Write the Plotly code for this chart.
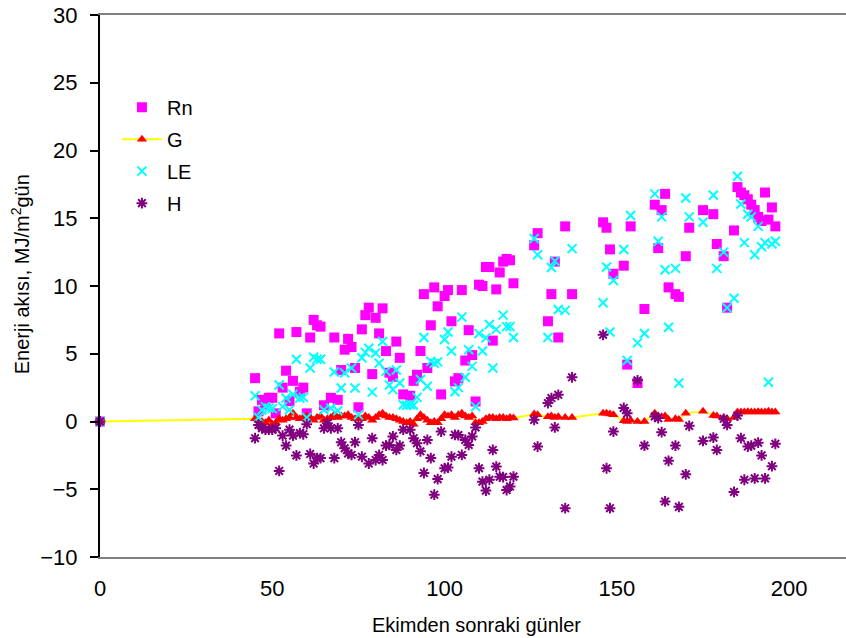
import plotly.graph_objects as go

# ---------------- data ----------------
rn_days = [0,45,46,47,48,49,50,51,52,53,54,55,56,57,58,59,60,61,62,63,64,65,67,68,69,70,71,72,73,74,75,76,77,78,79,80,81,82,83,84,85,86,87,88,90,91,92,93,94,95,96,97,98,99,100,101,102,103,104,105,106,107,108,109,110,111,112,113,114,115,116,117,118,119,120,126,127,130,131,132,133,135,137,146,147,148,149,152,153,154,156,158,161,162,163,164,165,167,168,170,171,175,178,179,181,182,184,185,186,187,188,189,190,191,192,193,194,195,196]
rn_vals = [0,3.2,0.75,1.6,1.25,1.75,1.75,0.6,6.5,2.5,3.75,1.5,3.0,6.6,2.2,2.5,0.6,6.2,7.5,7.1,7.0,1.2,1.75,6.2,1.6,3.8,5.3,6.1,5.5,3.95,1.05,6.8,7.85,8.4,3.5,7.65,6.5,8.35,5.2,3.6,3.3,5.9,4.7,2.0,1.9,3.0,3.45,5.2,9.4,3.95,7.1,9.9,8.5,2.0,9.26,9.7,7.4,2.96,3.2,9.7,4.5,6.74,4.9,1.48,10.1,10.0,11.4,11.4,5.97,9.75,11.0,11.8,12.0,11.9,10.2,13.0,13.9,7.4,9.4,11.8,6.2,14.4,9.4,14.7,14.3,12.7,10.9,11.5,4.2,14.4,2.84,8.3,16.0,12.8,15.6,16.8,9.9,9.4,9.2,12.2,14.3,15.6,15.3,13.1,12.2,8.4,14.1,17.3,16.9,16.7,16.4,16.0,15.6,15.1,14.8,16.9,14.9,15.8,14.4]

g_days = [0] + list(range(45, 121)) + [126,127,130,131,132,133,135,137,146,147,148,149,152,153,154,156,158,161,162,163,164,165,167,168,170,175,178,179,181,182,184,185,186,187,188,189,190,191,192,193,194,195,196]
g_vals = [0,
          0.2,0.1,0.0,-0.1,0.1,-0.2,-0.1,0.2,0.1,0.2,0.3,0.6,0.3,0.2,0.3,0.4,0.3,0.1,0.3,0.4,
          0.1,0.2,0.3,0.5,0.3,0.4,0.4,0.5,0.3,0.2,0.3,0.2,0.4,0.3,0.1,0.3,0.5,0.6,0.4,0.3,
          0.3,0.2,0.1,0.0,-0.1,0.0,-0.2,0.2,0.5,0.3,0.1,-0.1,0.0,-0.1,0.2,0.5,0.4,0.5,0.3,0.5,
          0.6,0.4,0.3,0.4,-0.1,-0.1,0.0,0.2,0.3,0.3,0.2,0.3,0.3,0.2,0.3,0.25,
          0.55,0.5,0.35,0.4,0.3,0.35,0.3,0.3,0.6,0.6,0.55,0.5,0.05,0.0,0.1,0.0,0.0,
          0.6,0.4,0.35,0.4,0.15,0.2,0.15,0.6,0.75,0.45,0.4,0.25,0.2,0.3,
          0.7,0.7,0.7,0.72,0.7,0.7,0.72,0.7,0.7,0.75,0.7,0.7]

le_days = [0,45,46,47,48,49,50,52,53,54,55,56,57,58,59,60,61,62,63,64,65,67,68,69,70,71,73,74,75,76,77,78,79,80,81,82,83,84,85,86,87,88,89,90,91,92,93,94,95,96,97,98,100,101,102,103,104,105,106,107,108,109,110,111,112,113,114,115,117,118,119,120,126,127,130,131,132,133,135,137,146,147,148,149,152,153,154,156,158,161,162,163,164,165,167,168,170,171,175,178,179,181,182,184,185,186,187,188,189,190,191,192,193,194,195,196]
le_vals = [0,1.9,0.3,0.85,1.1,1.0,0.95,2.7,1.1,1.73,0.86,2.0,4.6,1.73,1.78,0.3,3.95,4.74,4.6,4.6,0.86,0.98,3.65,0.79,2.47,3.58,3.95,2.47,0.49,4.7,5.1,5.4,2.17,5.06,4.3,5.9,3.7,2.7,2.35,3.8,2.84,1.23,1.2,1.23,1.2,1.78,3.1,6.2,2.6,4.44,4.3,4.4,6.05,6.6,5.2,2.2,2.5,7.7,3.26,5.3,4.07,1.1,6.5,5.2,6.17,7.16,3.95,6.8,7.85,7.0,7.0,6.2,13.5,12.3,6.2,11.36,11.85,8.27,8.2,12.76,8.76,11.4,6.6,10.4,12.7,4.5,15.2,5.8,6.5,16.8,13.3,15.1,11.2,6.96,11.3,2.84,16.5,15.1,14.7,16.7,11.3,12.5,8.4,9.1,18.1,16.05,13.2,15.3,15.1,12.3,14.4,12.9,13.2,2.9,13.1,13.3]

h_days = [0,45,46,47,48,49,50,51,52,53,54,55,56,57,58,59,60,61,62,63,64,65,66,67,68,69,70,71,72,73,74,75,76,78,79,80,81,82,83,84,85,86,87,88,90,91,92,93,94,95,96,97,98,99,100,101,102,103,104,105,106,107,108,109,110,111,112,113,114,115,116,117,118,119,120,126,127,130,131,132,133,135,137,146,147,148,149,152,153,156,158,161,162,163,164,165,167,168,170,171,175,178,179,181,182,184,185,186,187,188,189,190,191,192,193,195,196]
h_vals = [0,-1.23,-0.25,-0.49,-0.6,-0.6,-0.6,-0.49,-3.65,-1.04,-1.78,-0.6,-1.04,-2.5,-0.86,-0.94,-0.2,-2.4,-3.1,-2.7,-2.7,-0.5,-0.12,-0.5,-2.7,-0.5,-1.53,-1.98,-2.35,-2.47,-1.53,-0.25,-2.6,-3.1,-1.23,-2.84,-2.47,-2.84,-1.78,-1.73,-1.1,-2.1,-1.78,-0.6,-0.6,-1.23,-1.6,-2.2,-3.8,-1.36,-2.7,-5.4,-4.25,-0.74,-3.45,-3.4,-2.6,-0.99,-1.0,-2.47,-1.36,-1.73,-1.1,-0.44,-3.45,-4.44,-5.1,-4.3,-2.1,-3.33,-4.07,-4.1,-5.06,-4.8,-4.07,0.12,-1.85,1.36,1.73,-0.44,1.97,-6.4,3.26,6.4,-3.45,-6.4,-0.74,1.0,0.6,3.04,-1.78,0.37,0.25,-0.79,-5.9,-2.9,-1.78,-6.3,-3.9,-0.32,-1.43,-1.19,-2.1,0.2,-0.25,-5.2,0.44,-1.23,-4.3,-1.85,-1.78,-4.2,-1.56,-2.5,-4.2,-3.3,-1.65]

series_names = ["Rn", "G", "LE", "H"]
x_title = "Ekimden sonraki günler"
y_title = "Enerji akısı, MJ/m<sup>2</sup>gün"

FONT = "Liberation Sans, Arial, sans-serif"

fig = go.Figure()
fig.add_trace(go.Scatter(x=rn_days, y=rn_vals, mode="markers", name=series_names[0],
                         legendgroup="a", cliponaxis=False,
                         marker=dict(symbol="square", size=10, color="#FF00FF")))
fig.add_trace(go.Scatter(x=g_days, y=g_vals, mode="lines+markers", name=series_names[1],
                         legendgroup="b", cliponaxis=False,
                         line=dict(color="#FFFF00", width=2),
                         marker=dict(symbol="triangle-up", size=9, color="#FF0000")))
fig.add_trace(go.Scatter(x=le_days, y=le_vals, mode="markers", name=series_names[2],
                         legendgroup="c", cliponaxis=False,
                         marker=dict(symbol="x-thin-open", size=9, color="#00FFFF",
                                     line=dict(color="#00FFFF", width=2))))
fig.add_trace(go.Scatter(x=h_days, y=h_vals, mode="markers", name=series_names[3],
                         legendgroup="d", cliponaxis=False,
                         marker=dict(symbol="asterisk-open", size=9, color="#800080",
                                     line=dict(color="#800080", width=2))))

fig.update_layout(
    width=846, height=638,
    margin=dict(l=100, r=0, t=15, b=81, autoexpand=False),
    paper_bgcolor="white", plot_bgcolor="white",
    font=dict(family=FONT, color="black"),
    showlegend=True,
    legend=dict(x=0.0227, y=0.866, xanchor="left", yanchor="top",
                font=dict(size=20, family=FONT), bgcolor="rgba(0,0,0,0)",
                tracegroupgap=3, itemwidth=40),
    xaxis=dict(range=[0, 216.5], tick0=0, dtick=50, showgrid=False, zeroline=False,
               showline=True, linecolor="#808080", linewidth=2, mirror=True,
               ticks="outside", ticklen=0, ticklabelstandoff=11,
               ticklabeloverflow="allow", automargin=False,
               tickfont=dict(size=22, family=FONT)),
    xaxis2=dict(matches="x", overlaying="x", anchor="free", position=0.25, side="bottom",
                showgrid=False, zeroline=False, showline=True, linecolor="black", linewidth=2,
                ticks="outside", ticklen=7, tickwidth=2, tickcolor="black",
                tick0=0, dtick=50, showticklabels=False, automargin=False),
    yaxis=dict(range=[-10, 30], dtick=5, showgrid=False, zeroline=False,
               showline=True, linecolor="black", linewidth=2,
               ticks="outside", ticklen=8, tickwidth=2, tickcolor="black",
               ticklabelstandoff=8, ticklabeloverflow="allow", automargin=False,
               tickfont=dict(size=22, family=FONT)),
    annotations=[
        dict(text=x_title, xref="paper", yref="paper", x=0.505, y=-0.1255,
             xanchor="center", yanchor="middle", showarrow=False,
             font=dict(size=20, family=FONT)),
        dict(text=y_title, xref="paper", yref="paper", x=-0.107, y=0.522,
             xanchor="center", yanchor="middle", textangle=-90, showarrow=False,
             font=dict(size=20, family=FONT)),
    ],
)

# remove the browser's default 8px page margin so the figure sits at the window's corner
fig.write_html("out.html", config={"displayModeBar": False},
               post_script="document.body.style.margin='0';")
